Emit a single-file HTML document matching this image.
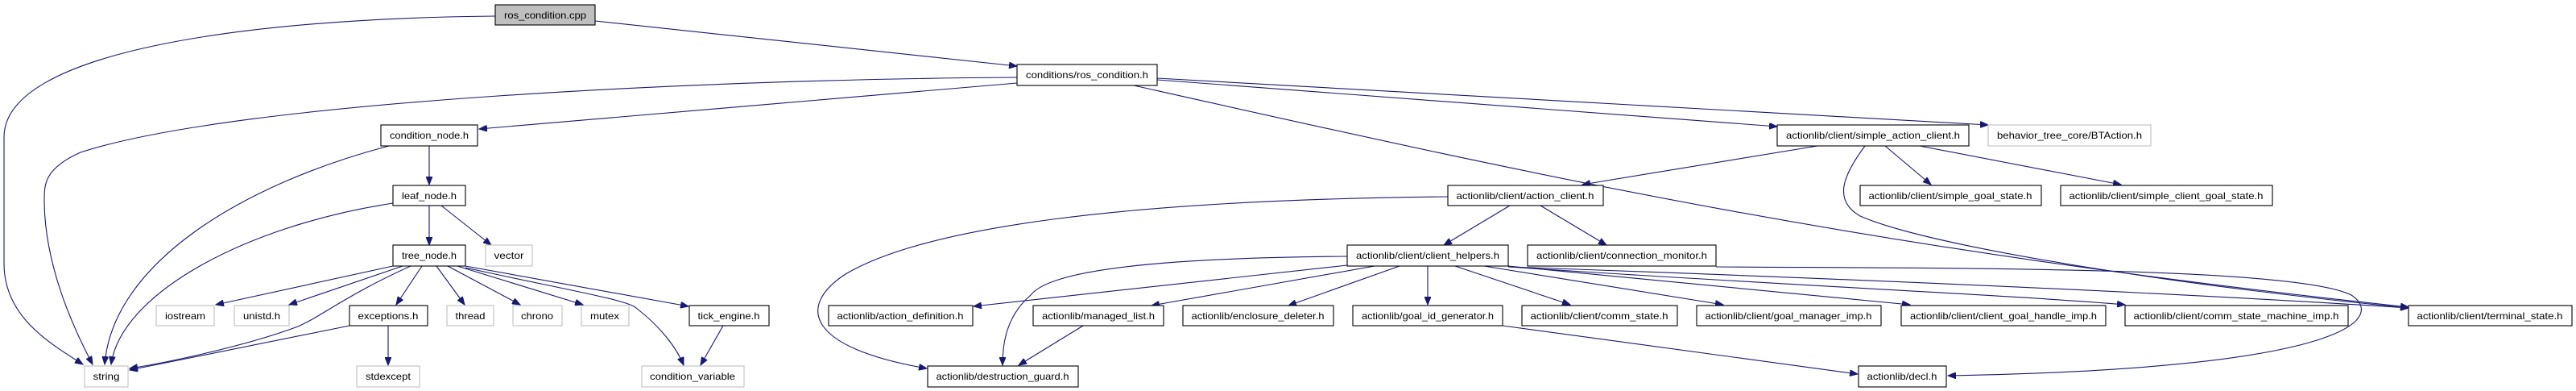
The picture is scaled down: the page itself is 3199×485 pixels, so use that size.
<!DOCTYPE html>
<html><head><meta charset="utf-8"><style>
html,body{margin:0;padding:0;background:#fff;}
svg{display:block;}
text{font-family:"Liberation Sans",sans-serif;font-size:12px;fill:#000;}
</style></head><body>
<svg width="3199" height="485" viewBox="0 0 3199 485" xmlns="http://www.w3.org/2000/svg">
<defs>
<marker id="a" markerUnits="userSpaceOnUse" markerWidth="11" markerHeight="8" refX="10" refY="4" orient="auto">
<path d="M0,0 L10,4 L0,8 z" fill="#191970" stroke="#191970"/>
</marker>
</defs>
<g fill="none" stroke="#191970" stroke-width="1.1" marker-end="url(#a)">
<path d="M615,20 C300,23 5,65 5,170 L5,327 C5,392 60,425 103,452"/>
<path d="M739,26 L1263,82"/>
<path d="M1263,96 C900,98 300,124 100,189 C55,209 55,229 55,248 C55,327 90,405 115,452"/>
<path d="M1263,103 L595,160"/>
<path d="M1437,99 L2207,157"/>
<path d="M1437,97 L2469,155"/>
<path d="M1408,106 C1900,216 2300,307 2991,381"/>
<path d="M483,181 C300,229 140,327 130,452"/>
<path d="M533,181 L533,229"/>
<path d="M488,252 C300,281 150,366 138,452"/>
<path d="M533,255 L533,304"/>
<path d="M548,255 L610,304"/>
<path d="M488,330 L268,378"/>
<path d="M500,330 L359,378"/>
<path d="M510,330 C430,366 400,392 370,405 C300,431 200,451 161,457"/>
<path d="M524,330 L492,378"/>
<path d="M542,330 L577,378"/>
<path d="M556,330 L646,378"/>
<path d="M568,330 L724,378"/>
<path d="M578,330 L855,380"/>
<path d="M578,332 C700,359 780,372 790,382 C820,405 840,431 849,453"/>
<path d="M898,404 L870,453"/>
<path d="M434,404 L161,459"/>
<path d="M482,404 L482,453"/>
<path d="M2257,181 L1965,229"/>
<path d="M2341,181 L2398,229"/>
<path d="M2384,181 L2634,229"/>
<path d="M2316,181 C2290,216 2275,248 2310,268 C2400,307 2700,353 2991,382"/>
<path d="M1798,244 C1400,248 1150,281 1050,340 C990,379 1000,431 1151,457"/>
<path d="M1875,255 L1793,304"/>
<path d="M1913,255 L1995,304"/>
<path d="M1673,318 C1400,320 1300,340 1280,366 C1250,392 1245,425 1245,453"/>
<path d="M1673,329 L1209,380"/>
<path d="M1707,330 L1430,379"/>
<path d="M1738,330 L1600,379"/>
<path d="M1773,330 L1773,378"/>
<path d="M1807,330 L1950,378"/>
<path d="M1843,330 L2140,378"/>
<path d="M1873,330 L2372,378"/>
<path d="M1873,331 C2200,353 2500,366 2639,378"/>
<path d="M1873,331 C2300,346 2700,363 2991,382"/>
<path d="M2131,331 C2400,333 2850,330 2920,366 C2960,392 2930,457 2419,466"/>
<path d="M1866,404 L2307,464"/>
<path d="M1345,404 L1265,453"/>
</g>
<g stroke-width="1.1">
<g stroke="#000" fill="#fff">
<rect x="615" y="6" width="124" height="25" fill="#bfbfbf"/>
<rect x="1263" y="80" width="174" height="26"/>
<rect x="473" y="155" width="120" height="26"/>
<rect x="488" y="230" width="90" height="25"/>
<rect x="488" y="304" width="90" height="26"/>
<rect x="434" y="379" width="97" height="25"/>
<rect x="856" y="379" width="99" height="25"/>
<rect x="2207" y="155" width="238" height="26"/>
<rect x="1798" y="230" width="193" height="25"/>
<rect x="2310" y="230" width="225" height="25"/>
<rect x="2559" y="230" width="263" height="25"/>
<rect x="1673" y="304" width="200" height="26"/>
<rect x="1897" y="304" width="234" height="26"/>
<rect x="1029" y="379" width="179" height="25"/>
<rect x="1283" y="379" width="162" height="25"/>
<rect x="1469" y="379" width="187" height="25"/>
<rect x="1680" y="379" width="186" height="25"/>
<rect x="1890" y="379" width="193" height="25"/>
<rect x="2107" y="379" width="229" height="25"/>
<rect x="2361" y="379" width="254" height="25"/>
<rect x="2639" y="379" width="277" height="25"/>
<rect x="2991" y="379" width="203" height="25"/>
<rect x="1152" y="454" width="187" height="26"/>
<rect x="2308" y="454" width="109" height="26"/>
</g>
<g stroke="#bfbfbf" fill="#fff">
<rect x="2469" y="155" width="202" height="26"/>
<rect x="603" y="304" width="58" height="26"/>
<rect x="194" y="379" width="72" height="25"/>
<rect x="291" y="379" width="68" height="25"/>
<rect x="555" y="379" width="58" height="25"/>
<rect x="637" y="379" width="61" height="25"/>
<rect x="722" y="379" width="59" height="25"/>
<rect x="105" y="454" width="54" height="26"/>
<rect x="443" y="454" width="78" height="26"/>
<rect x="797" y="454" width="127" height="26"/>
</g>
</g>
<g text-anchor="middle">
<text x="677" y="23" textLength="102" lengthAdjust="spacingAndGlyphs">ros_condition.cpp</text>
<text x="1350" y="97" textLength="152" lengthAdjust="spacingAndGlyphs">conditions/ros_condition.h</text>
<text x="533" y="172" textLength="98" lengthAdjust="spacingAndGlyphs">condition_node.h</text>
<text x="533" y="247" textLength="68" lengthAdjust="spacingAndGlyphs">leaf_node.h</text>
<text x="533" y="321" textLength="68" lengthAdjust="spacingAndGlyphs">tree_node.h</text>
<text x="632" y="321" textLength="37" lengthAdjust="spacingAndGlyphs">vector</text>
<text x="230" y="396" textLength="50" lengthAdjust="spacingAndGlyphs">iostream</text>
<text x="325" y="396" textLength="46" lengthAdjust="spacingAndGlyphs">unistd.h</text>
<text x="482" y="396" textLength="75" lengthAdjust="spacingAndGlyphs">exceptions.h</text>
<text x="584" y="396" textLength="37" lengthAdjust="spacingAndGlyphs">thread</text>
<text x="667" y="396" textLength="40" lengthAdjust="spacingAndGlyphs">chrono</text>
<text x="751" y="396" textLength="36" lengthAdjust="spacingAndGlyphs">mutex</text>
<text x="905" y="396" textLength="77" lengthAdjust="spacingAndGlyphs">tick_engine.h</text>
<text x="132" y="471" textLength="33" lengthAdjust="spacingAndGlyphs">string</text>
<text x="482" y="471" textLength="56" lengthAdjust="spacingAndGlyphs">stdexcept</text>
<text x="860" y="471" textLength="106" lengthAdjust="spacingAndGlyphs">condition_variable</text>
<text x="2326" y="172" textLength="216" lengthAdjust="spacingAndGlyphs">actionlib/client/simple_action_client.h</text>
<text x="2570" y="172" textLength="180" lengthAdjust="spacingAndGlyphs">behavior_tree_core/BTAction.h</text>
<text x="1894" y="247" textLength="171" lengthAdjust="spacingAndGlyphs">actionlib/client/action_client.h</text>
<text x="2422" y="247" textLength="203" lengthAdjust="spacingAndGlyphs">actionlib/client/simple_goal_state.h</text>
<text x="2690" y="247" textLength="241" lengthAdjust="spacingAndGlyphs">actionlib/client/simple_client_goal_state.h</text>
<text x="1773" y="321" textLength="178" lengthAdjust="spacingAndGlyphs">actionlib/client/client_helpers.h</text>
<text x="2014" y="321" textLength="212" lengthAdjust="spacingAndGlyphs">actionlib/client/connection_monitor.h</text>
<text x="1118" y="396" textLength="157" lengthAdjust="spacingAndGlyphs">actionlib/action_definition.h</text>
<text x="1364" y="396" textLength="140" lengthAdjust="spacingAndGlyphs">actionlib/managed_list.h</text>
<text x="1562" y="396" textLength="165" lengthAdjust="spacingAndGlyphs">actionlib/enclosure_deleter.h</text>
<text x="1773" y="396" textLength="164" lengthAdjust="spacingAndGlyphs">actionlib/goal_id_generator.h</text>
<text x="1986" y="396" textLength="171" lengthAdjust="spacingAndGlyphs">actionlib/client/comm_state.h</text>
<text x="2221" y="396" textLength="207" lengthAdjust="spacingAndGlyphs">actionlib/client/goal_manager_imp.h</text>
<text x="2488" y="396" textLength="232" lengthAdjust="spacingAndGlyphs">actionlib/client/client_goal_handle_imp.h</text>
<text x="2777" y="396" textLength="255" lengthAdjust="spacingAndGlyphs">actionlib/client/comm_state_machine_imp.h</text>
<text x="3092" y="396" textLength="181" lengthAdjust="spacingAndGlyphs">actionlib/client/terminal_state.h</text>
<text x="1245" y="471" textLength="165" lengthAdjust="spacingAndGlyphs">actionlib/destruction_guard.h</text>
<text x="2362" y="471" textLength="87" lengthAdjust="spacingAndGlyphs">actionlib/decl.h</text>
</g>
</svg>
</body></html>
